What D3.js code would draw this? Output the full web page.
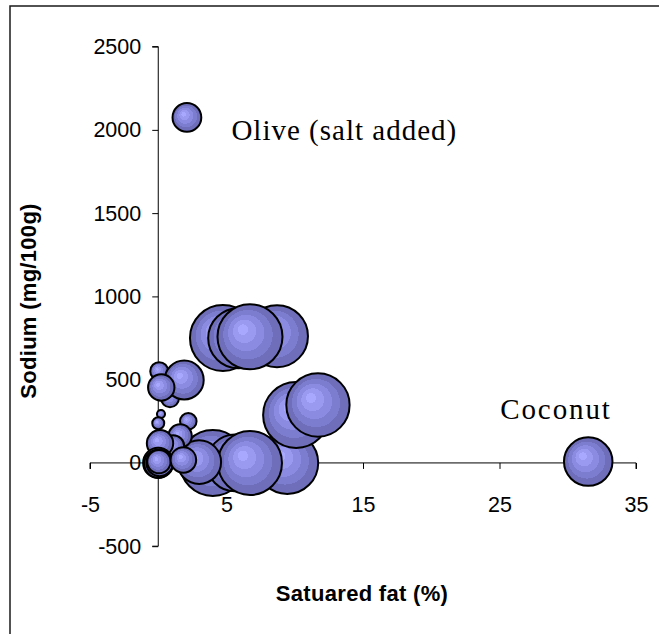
<!DOCTYPE html>
<html>
<head>
<meta charset="utf-8">
<script src="https://cdn.jsdelivr.net/npm/d3@7"></script>
<style>
  html, body { margin: 0; padding: 0; background: #fff; }
  svg { display: block; }
</style>
</head>
<body>
<script>
// Saturated fat (%), sodium (mg/100g) and bubble size for each product, in drawing order
const satFat     = [8.7, 4.74, 5.86, 6.72, 9.45, 10.1, 11.7, 4.0, 5.62, 6.72, 3.0, 31.5, 2.1, 0.86, 0.07, 1.9, 0.22, 0.2, 0.0, 2.2, 1.6, 1.1, 0.13, 0.0, 0.0, 0.1, 0.05, 1.84];
const sodium     = [761, 750, 749, 758, 0, 288, 348, 0, 0, 0, 5, 8, 2075, 388, 551, 498, 453, 294, 238, 250, 162, 100, 118, 0, -5, 0, 8, 18];
const bubbleSize = [88, 100, 83, 97, 88, 100, 92, 100, 74, 94, 44, 54, 19, 7.4, 7.4, 35, 16, 1.5, 3.3, 6.3, 12.6, 11, 16, 21, 18, 16, 12.6, 15];

// Named products
const labelIndex = [12, 11];
const labelText  = ["Olive (salt added)", "Coconut"];

const xTicks = [-5, 5, 15, 25, 35];
const yTicks = [-500, 0, 500, 1000, 1500, 2000, 2500];

const W = 659, H = 634;

const svg = d3.select("body").append("svg")
  .attr("width", W).attr("height", H);

svg.append("rect").attr("width", W).attr("height", H).attr("fill", "#fff");

// chart frame (runs off the right and bottom edges)
svg.append("rect")
  .attr("x", 10).attr("y", 6)
  .attr("width", 700).attr("height", 700)
  .attr("fill", "none").attr("stroke", "#1a1a1a").attr("stroke-width", 1.5);

const x = d3.scaleLinear().domain([-5, 35]).range([90, 636]);
const y = d3.scaleLinear().domain([-500, 2500]).range([546.2, 46.6]);
const r = d3.scaleSqrt().domain([0, 100]).range([0, 33]);

// banded radial shading of the bubbles
const defs = svg.append("defs");
const grad = defs.append("radialGradient")
  .attr("id", "bubbleFill")
  .attr("cx", 0.5).attr("cy", 0.5).attr("r", 0.5)
  .attr("fx", 0.37).attr("fy", 0.37);
const bands = ["#a8a8ff", "#9a9af1", "#8b8be1", "#7d7dcf", "#6e6eba"];
const edges = [0, 0.16, 0.36, 0.56, 0.76, 1];
bands.forEach((c, i) => {
  grad.append("stop").attr("offset", edges[i]).attr("stop-color", c);
  grad.append("stop").attr("offset", edges[i + 1]).attr("stop-color", c);
});

const tickFont = "Liberation Sans, Arial, sans-serif";
const plain = d => String(d);

// x axis along sodium = 0
const xAxis = svg.append("g")
  .attr("transform", `translate(0,${y(0)})`)
  .call(d3.axisBottom(x).tickValues(xTicks).tickSize(6).tickPadding(28).tickFormat(plain));
xAxis.select(".domain").attr("d", `M${x(-5)},6V0H${x(35)}V6`).attr("stroke", "#000");
xAxis.selectAll(".tick line").attr("stroke", "#000");
xAxis.selectAll("text").attr("font-family", tickFont).attr("font-size", 21.5).attr("fill", "#000");

// y axis along saturated fat = 0
const yAxis = svg.append("g")
  .attr("transform", `translate(${x(0)},0)`)
  .call(d3.axisLeft(y).tickValues(yTicks).tickSize(6).tickPadding(11).tickFormat(plain));
yAxis.select(".domain").attr("d", `M-6,${y(2500)}H0V${y(-500)}H-6`).attr("stroke", "#000");
yAxis.selectAll(".tick line").attr("stroke", "#000");
yAxis.selectAll("text").attr("font-family", tickFont).attr("font-size", 21.5).attr("fill", "#000");

// bubbles
const idx = d3.range(satFat.length);
svg.append("g").selectAll("circle")
  .data(idx)
  .join("circle")
  .attr("cx", i => x(satFat[i]))
  .attr("cy", i => y(sodium[i]))
  .attr("r", i => r(bubbleSize[i]))
  .attr("fill", "url(#bubbleFill)")
  .attr("stroke", "#000")
  .attr("stroke-width", 2);

// product labels
const labelOffset = [[44.5, 22.5], [-88, -43]];
const labelSpacing = [1.0, 1.9];
svg.append("g").selectAll("text")
  .data(labelIndex)
  .join("text")
  .attr("x", (d, k) => x(satFat[d]) + labelOffset[k][0])
  .attr("y", (d, k) => y(sodium[d]) + labelOffset[k][1])
  .attr("font-family", "Liberation Serif, Times New Roman, serif")
  .attr("font-size", 29)
  .attr("letter-spacing", (d, k) => labelSpacing[k])
  .attr("fill", "#000")
  .text((d, k) => labelText[k]);

// axis titles
svg.append("text")
  .attr("x", 362).attr("y", 601)
  .attr("text-anchor", "middle")
  .attr("font-family", tickFont).attr("font-weight", "bold")
  .attr("font-size", 22).attr("letter-spacing", 0.3)
  .text("Satuared fat (%)");

svg.append("text")
  .attr("transform", "translate(36,301) rotate(-90)")
  .attr("text-anchor", "middle")
  .attr("font-family", tickFont).attr("font-weight", "bold")
  .attr("font-size", 22).attr("letter-spacing", 0.3)
  .text("Sodium (mg/100g)");
</script>
</body>
</html>
